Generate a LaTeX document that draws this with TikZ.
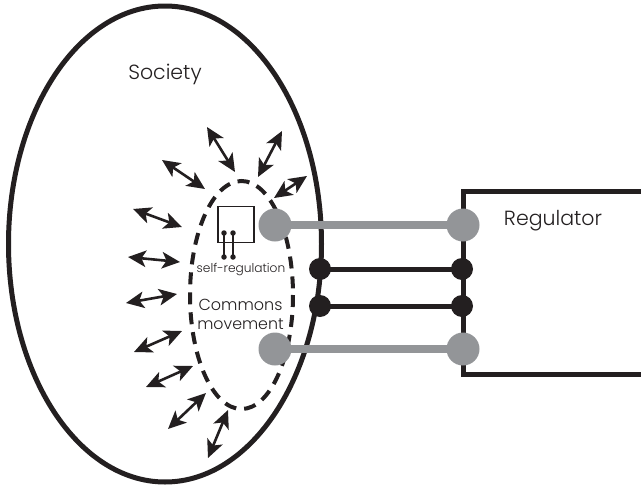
\documentclass[tikz,border=0pt]{standalone}
\usepackage{fontspec}
\setmainfont{Poppins}[UprightFont=* Light]
\usetikzlibrary{arrows.meta}
\definecolor{ink}{HTML}{231F20}
\definecolor{hub}{HTML}{939598}
\tikzset{
  x=1pt,y=-1pt,
  label text/.style={text=ink,inner sep=0pt,font=\fontsize{#1}{#1}\selectfont},
  grey hub/.style={circle,fill=hub,minimum size=33pt,inner sep=0pt},
  black hub/.style={circle,fill=ink,minimum size=22pt,inner sep=0pt},
  small dot/.style={circle,fill=ink,minimum size=5.5pt,inner sep=0pt},
  grey link/.style={draw=hub,line width=7.5pt},
  black link/.style={draw=ink,line width=5pt},
  thin link/.style={draw=ink,line width=1.3pt},
  double arrow/.style={draw=ink,line width=2.6pt,{Stealth[length=18pt,width=16.5pt,inset=4.5pt]}-{Stealth[length=18pt,width=16.5pt,inset=4.5pt]}},
}
\begin{document}
\begin{tikzpicture}
\useasboundingbox (0,0) rectangle (641,485);
\draw[ink,line width=5pt] (165,244) ellipse [x radius=156.5,y radius=238];
\draw[ink,line width=4pt,dash pattern=on 12pt off 8pt] (241.5,295) ellipse [x radius=51.5,y radius=114];
\draw[ink,line width=5pt] (641,191) -- (463,191) -- (463,374) -- (641,374);
\node[draw=ink,line width=1.3pt,minimum size=36pt,inner sep=0pt] (box) at (236,224.5) {};
\node[small dot] (d1) at (224,233) {};
\node[small dot] (d2) at (233,233) {};
\node[small dot] (d3) at (224,257) {};
\node[small dot] (d4) at (233,257) {};
\draw[thin link] (d1.center) -- (d3.center);
\draw[thin link] (d2.center) -- (d4.center);
\node[grey hub] (g1) at (275,225) {};
\node[grey hub] (g2) at (275,349) {};
\node[grey hub] (g3) at (463,225) {};
\node[grey hub] (g4) at (463,349) {};
\node[black hub] (b1) at (320,269) {};
\node[black hub] (b2) at (320,306) {};
\node[black hub] (b3) at (462,269) {};
\node[black hub] (b4) at (462,306) {};
\draw[grey link] (g1.center) -- (g3.center);
\draw[grey link] (g2.center) -- (g4.center);
\draw[black link] (b1.center) -- (b3.center);
\draw[black link] (b2.center) -- (b4.center);
\foreach \n/\ax/\ay/\bx/\by in {1/207/127/235/172,2/282/131/258/177,3/162/160/205/189,4/307/176/274/198,5/133/209/182/227,6/128/257/180/262,7/126/303/177/294,8/134/352/182/331,9/146/387/193/366,10/168/429/206/393,11/208/458/228/410}{
  \coordinate (s\n) at (\ax,\ay);
  \coordinate (e\n) at (\bx,\by);
  \draw[double arrow] (s\n) -- (e\n);
}
\node[label text=20.5] (society) at (165,74) {Society};
\node[label text=20.5] (regulator) at (553,220.5) {Regulator};
\node[label text=12.2] (self) at (241,269.5) {self-regulation};
\node[label text=16] (commons) at (240.5,305) {Commons};
\node[label text=15.8] (movement) at (240.5,324.5) {movement};
\end{tikzpicture}
\end{document}
